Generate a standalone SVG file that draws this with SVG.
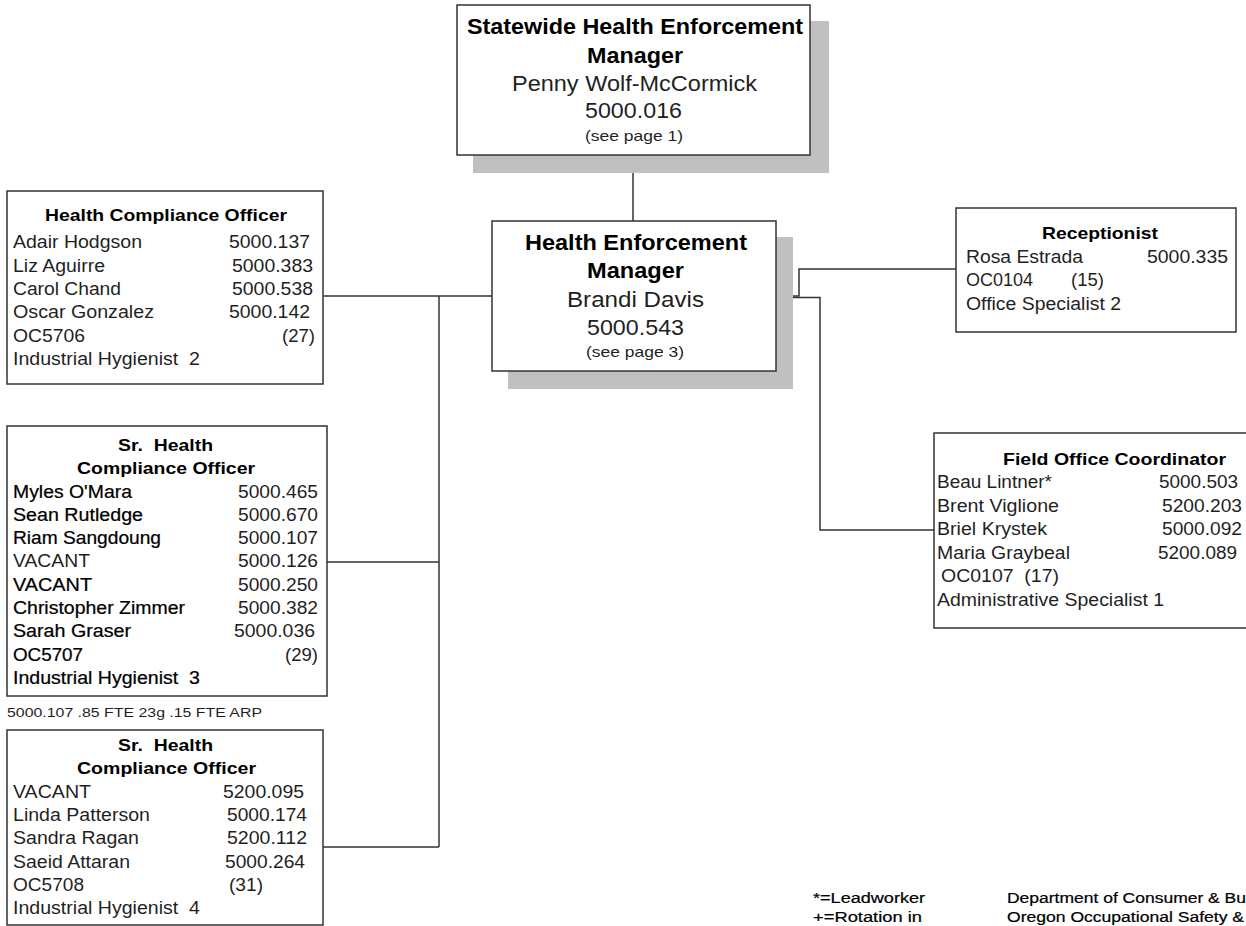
<svg xmlns="http://www.w3.org/2000/svg" width="1246" height="926" viewBox="0 0 1246 926">
<style>
.bg{fill:#fff}
.box{fill:#fff;stroke:#333;stroke-width:1.5}
.shd{fill:#c0c0c0}
.ln{fill:none;stroke:#333;stroke-width:1.5}
text{font-family:"Liberation Sans",Arial,sans-serif;fill:#1f1f1f}
.b{font-weight:bold;fill:#000}
.big{font-size:22px}
.sm{font-size:15px}
.row{font-size:17.5px}
.ttl{font-size:17px}
.fn{font-size:12.5px}
.lg{font-size:14px;fill:#000;stroke:#000;stroke-width:0.2}
.dk{fill:#000;stroke:#000;stroke-width:0.22}
</style>
<rect class="bg" x="0" y="0" width="1246" height="926"/>

<g id="connectors">
  <path class="ln" d="M633,155 V221"/>
  <path class="ln" d="M324,296 H492"/>
  <path class="ln" d="M439,296 V847"/>
  <path class="ln" d="M327,562 H439"/>
  <path class="ln" d="M323,847 H439"/>
  <path class="ln" d="M776,296 H799 V269 H956"/>
  <path class="ln" d="M776,297.5 H820 V530 H934"/>
</g>

<g id="statewide-manager">
  <rect class="shd" x="473" y="21" width="356" height="152"/>
  <rect class="box" x="457" y="5" width="353" height="150"/>
  <text class="b big" x="467" y="34" textLength="336" lengthAdjust="spacingAndGlyphs">Statewide Health Enforcement</text>
  <text class="b big" x="587" y="63" textLength="96" lengthAdjust="spacingAndGlyphs">Manager</text>
  <text class="big" x="512" y="91" textLength="245" lengthAdjust="spacingAndGlyphs">Penny Wolf-McCormick</text>
  <text class="big" x="585" y="118" textLength="97" lengthAdjust="spacingAndGlyphs">5000.016</text>
  <text class="sm" x="585" y="141" textLength="98" lengthAdjust="spacingAndGlyphs">(see page 1)</text>
</g>

<g id="health-enforcement-manager">
  <rect class="shd" x="508" y="237" width="285" height="152"/>
  <rect class="box" x="492" y="221" width="284" height="150"/>
  <text class="b big" x="525" y="250" textLength="222" lengthAdjust="spacingAndGlyphs">Health Enforcement</text>
  <text class="b big" x="587" y="278" textLength="97" lengthAdjust="spacingAndGlyphs">Manager</text>
  <text class="big" x="567" y="307" textLength="137" lengthAdjust="spacingAndGlyphs">Brandi Davis</text>
  <text class="big" x="587" y="335" textLength="97" lengthAdjust="spacingAndGlyphs">5000.543</text>
  <text class="sm" x="586" y="357" textLength="98" lengthAdjust="spacingAndGlyphs">(see page 3)</text>
</g>

<g id="health-compliance-officer">
  <rect class="box" x="7" y="191" width="316" height="193"/>
  <text class="b ttl" x="45" y="221" textLength="242" lengthAdjust="spacingAndGlyphs">Health Compliance Officer</text>
  <text class="row" x="13" y="248" textLength="129" lengthAdjust="spacingAndGlyphs">Adair Hodgson</text>
  <text class="row" x="229" y="248" textLength="81" lengthAdjust="spacingAndGlyphs">5000.137</text>
  <text class="row" x="13" y="271.5" textLength="92" lengthAdjust="spacingAndGlyphs">Liz Aguirre</text>
  <text class="row" x="232" y="271.5" textLength="81" lengthAdjust="spacingAndGlyphs">5000.383</text>
  <text class="row" x="13" y="295" textLength="108" lengthAdjust="spacingAndGlyphs">Carol Chand</text>
  <text class="row" x="232" y="295" textLength="81" lengthAdjust="spacingAndGlyphs">5000.538</text>
  <text class="row" x="13" y="318" textLength="141" lengthAdjust="spacingAndGlyphs">Oscar Gonzalez</text>
  <text class="row" x="229" y="318" textLength="81" lengthAdjust="spacingAndGlyphs">5000.142</text>
  <text class="row" x="13" y="341.5" textLength="72" lengthAdjust="spacingAndGlyphs">OC5706</text>
  <text class="row" x="282" y="341.5" textLength="33" lengthAdjust="spacingAndGlyphs">(27)</text>
  <text class="row" x="13" y="365" textLength="187" lengthAdjust="spacingAndGlyphs" xml:space="preserve">Industrial Hygienist  2</text>
</g>

<g id="sr-health-compliance-officer-1">
  <rect class="box" x="7" y="426" width="320" height="270"/>
  <text class="b ttl" x="118" y="451" textLength="95" lengthAdjust="spacingAndGlyphs" xml:space="preserve">Sr.  Health</text>
  <text class="b ttl" x="77" y="474" textLength="178" lengthAdjust="spacingAndGlyphs">Compliance Officer</text>
  <text class="row dk" x="13" y="497.5" textLength="119" lengthAdjust="spacingAndGlyphs">Myles O'Mara</text>
  <text class="row" x="238" y="497.5" textLength="80" lengthAdjust="spacingAndGlyphs">5000.465</text>
  <text class="row dk" x="13" y="520.8" textLength="130" lengthAdjust="spacingAndGlyphs">Sean Rutledge</text>
  <text class="row" x="238" y="520.8" textLength="80" lengthAdjust="spacingAndGlyphs">5000.670</text>
  <text class="row dk" x="13" y="544" textLength="148" lengthAdjust="spacingAndGlyphs">Riam Sangdoung</text>
  <text class="row" x="238" y="544" textLength="80" lengthAdjust="spacingAndGlyphs">5000.107</text>
  <text class="row" x="13" y="567.3" textLength="77" lengthAdjust="spacingAndGlyphs">VACANT</text>
  <text class="row" x="238" y="567.3" textLength="80" lengthAdjust="spacingAndGlyphs">5000.126</text>
  <text class="row dk" x="13" y="590.6" textLength="79" lengthAdjust="spacingAndGlyphs">VACANT</text>
  <text class="row" x="238" y="590.6" textLength="80" lengthAdjust="spacingAndGlyphs">5000.250</text>
  <text class="row dk" x="13" y="614" textLength="172" lengthAdjust="spacingAndGlyphs">Christopher Zimmer</text>
  <text class="row" x="238" y="614" textLength="80" lengthAdjust="spacingAndGlyphs">5000.382</text>
  <text class="row dk" x="13" y="637.2" textLength="118" lengthAdjust="spacingAndGlyphs">Sarah Graser</text>
  <text class="row" x="234" y="637.2" textLength="81" lengthAdjust="spacingAndGlyphs">5000.036</text>
  <text class="row dk" x="13" y="660.5" textLength="70" lengthAdjust="spacingAndGlyphs">OC5707</text>
  <text class="row" x="285" y="660.5" textLength="33" lengthAdjust="spacingAndGlyphs">(29)</text>
  <text class="row dk" x="13" y="683.8" textLength="187" lengthAdjust="spacingAndGlyphs" xml:space="preserve">Industrial Hygienist  3</text>
</g>

<text id="footnote" class="fn" x="7" y="717" textLength="255" lengthAdjust="spacingAndGlyphs">5000.107 .85 FTE 23g .15 FTE ARP</text>

<g id="sr-health-compliance-officer-2">
  <rect class="box" x="7" y="730" width="316" height="195"/>
  <text class="b ttl" x="118" y="751" textLength="95" lengthAdjust="spacingAndGlyphs" xml:space="preserve">Sr.  Health</text>
  <text class="b ttl" x="77" y="774" textLength="179" lengthAdjust="spacingAndGlyphs">Compliance Officer</text>
  <text class="row" x="13" y="798" textLength="78" lengthAdjust="spacingAndGlyphs">VACANT</text>
  <text class="row" x="223" y="798" textLength="81" lengthAdjust="spacingAndGlyphs">5200.095</text>
  <text class="row" x="13" y="821" textLength="137" lengthAdjust="spacingAndGlyphs">Linda Patterson</text>
  <text class="row" x="227" y="821" textLength="80" lengthAdjust="spacingAndGlyphs">5000.174</text>
  <text class="row" x="13" y="844" textLength="126" lengthAdjust="spacingAndGlyphs">Sandra Ragan</text>
  <text class="row" x="227" y="844" textLength="80" lengthAdjust="spacingAndGlyphs">5200.112</text>
  <text class="row" x="13" y="868" textLength="117" lengthAdjust="spacingAndGlyphs">Saeid Attaran</text>
  <text class="row" x="225" y="868" textLength="80" lengthAdjust="spacingAndGlyphs">5000.264</text>
  <text class="row" x="13" y="891" textLength="71" lengthAdjust="spacingAndGlyphs">OC5708</text>
  <text class="row" x="229" y="891" textLength="34" lengthAdjust="spacingAndGlyphs">(31)</text>
  <text class="row" x="13" y="914" textLength="187" lengthAdjust="spacingAndGlyphs" xml:space="preserve">Industrial Hygienist  4</text>
</g>

<g id="receptionist">
  <rect class="box" x="956" y="208" width="280" height="124"/>
  <text class="b ttl" x="1042" y="239" textLength="116" lengthAdjust="spacingAndGlyphs">Receptionist</text>
  <text class="row" x="966" y="263" textLength="117" lengthAdjust="spacingAndGlyphs">Rosa Estrada</text>
  <text class="row" x="1147" y="263" textLength="81" lengthAdjust="spacingAndGlyphs">5000.335</text>
  <text class="row" x="966" y="286" textLength="67" lengthAdjust="spacingAndGlyphs">OC0104</text>
  <text class="row" x="1071" y="286" textLength="33" lengthAdjust="spacingAndGlyphs">(15)</text>
  <text class="row" x="966" y="310" textLength="155" lengthAdjust="spacingAndGlyphs">Office Specialist 2</text>
</g>

<g id="field-office-coordinator">
  <path class="box" d="M1246,433 H934 V628 H1246"/>
  <text class="b ttl" x="1003" y="465" textLength="223" lengthAdjust="spacingAndGlyphs">Field Office Coordinator</text>
  <text class="row" x="937" y="488" textLength="115" lengthAdjust="spacingAndGlyphs">Beau Lintner*</text>
  <text class="row" x="1159" y="488" textLength="79" lengthAdjust="spacingAndGlyphs">5000.503</text>
  <text class="row" x="937" y="512" textLength="122" lengthAdjust="spacingAndGlyphs">Brent Viglione</text>
  <text class="row" x="1162" y="512" textLength="80" lengthAdjust="spacingAndGlyphs">5200.203</text>
  <text class="row" x="937" y="535" textLength="110" lengthAdjust="spacingAndGlyphs">Briel Krystek</text>
  <text class="row" x="1162" y="535" textLength="80" lengthAdjust="spacingAndGlyphs">5000.092</text>
  <text class="row" x="937" y="559" textLength="133" lengthAdjust="spacingAndGlyphs">Maria Graybeal</text>
  <text class="row" x="1158" y="559" textLength="79" lengthAdjust="spacingAndGlyphs">5200.089</text>
  <text class="row" x="941" y="582" textLength="118" lengthAdjust="spacingAndGlyphs" xml:space="preserve">OC0107  (17)</text>
  <text class="row" x="937" y="606" textLength="227" lengthAdjust="spacingAndGlyphs">Administrative Specialist 1</text>
</g>

<g id="legend">
  <text class="lg" x="813" y="903" textLength="112" lengthAdjust="spacingAndGlyphs">*=Leadworker</text>
  <text class="lg" x="813" y="922" textLength="109" lengthAdjust="spacingAndGlyphs">+=Rotation in</text>
  <text class="lg" x="1007" y="903" textLength="239" lengthAdjust="spacingAndGlyphs">Department of Consumer &amp; Bu</text>
  <text class="lg" x="1007" y="922" textLength="237" lengthAdjust="spacingAndGlyphs">Oregon Occupational Safety &amp;</text>
</g>
</svg>
